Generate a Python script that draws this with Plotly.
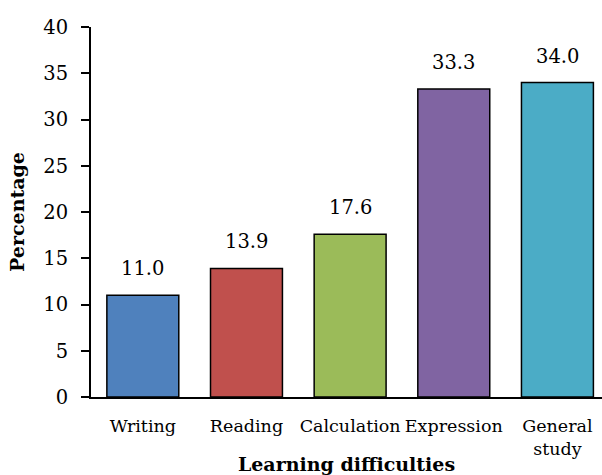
import plotly.graph_objects as go

categories = ["Writing", "Reading", "Calculation", "Expression", "General<br>study"]
values = [11.0, 13.9, 17.6, 33.3, 34.0]
value_labels = ["11.0", "13.9", "17.6", "33.3", "34.0"]
bar_colors = ["#4F81BD", "#C0504D", "#9BBB59", "#8064A2", "#4BACC6"]
y_ticks = [0, 5, 10, 15, 20, 25, 30, 35, 40]

FONT = "DejaVu Serif"

fig = go.Figure(
    go.Bar(
        x=categories,
        y=values,
        marker=dict(color=bar_colors, line=dict(color="black", width=1.5)),
        cliponaxis=False,
        hoverinfo="skip",
    )
)

for cat, val, lab in zip(categories, values, value_labels):
    fig.add_annotation(
        x=cat, y=val, text=lab, showarrow=False,
        xanchor="center", yanchor="bottom", yshift=13,
        font=dict(family=FONT, size=19.5, color="black"),
    )

fig.update_layout(
    width=602,
    height=475,
    margin=dict(l=91, r=0, t=27, b=78),
    paper_bgcolor="white",
    plot_bgcolor="white",
    bargap=0.306,
    showlegend=False,
    font=dict(family=FONT, size=18, color="black"),
    xaxis=dict(
        range=[-0.5, 4.43],
        showline=True,
        linecolor="black",
        linewidth=2,
        ticks="",
        tickangle=0,
        tickfont=dict(family=FONT, size=17.5, color="black"),
        ticklabelstandoff=12,
        title=dict(text="<b>Learning difficulties</b>", font=dict(family=FONT, size=19, color="black"), standoff=6),
        automargin=False,
    ),
    yaxis=dict(
        range=[0, 40],
        tickvals=y_ticks,
        showline=True,
        linecolor="black",
        linewidth=2,
        ticks="outside",
        ticklen=8,
        tickwidth=2,
        tickcolor="black",
        showgrid=False,
        zeroline=False,
        tickfont=dict(family=FONT, size=19.5, color="black"),
        ticklabelstandoff=9,
        title=dict(text="<b>Percentage</b>", font=dict(family=FONT, size=19, color="black"), standoff=14),
        automargin=False,
    ),
)

fig.write_html("out.html", config={"displayModeBar": False},
               post_script="document.body.style.margin='0';")
